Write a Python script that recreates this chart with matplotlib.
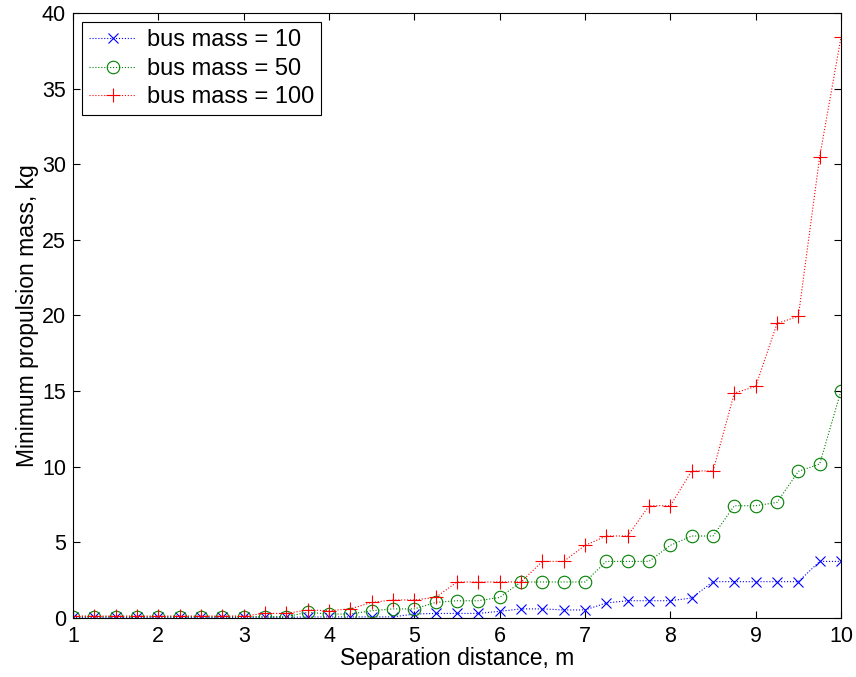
import numpy as np
import matplotlib
matplotlib.use("Agg")
import matplotlib.pyplot as plt

plt.rcParams['font.family'] = ['Liberation Sans', 'DejaVu Sans']

# separation distance, m
sep = np.arange(1, 10.01, 0.25)

# minimum propulsion mass, kg
mass_10 = [0.04, 0.04, 0.04, 0.04, 0.04, 0.04, 0.04, 0.04, 0.04, 0.04,
           0.04, 0.07, 0.07, 0.07, 0.07, 0.07, 0.26, 0.3, 0.3, 0.3,
           0.44, 0.6, 0.6, 0.53, 0.53, 0.99, 1.14, 1.14, 1.14, 1.32,
           2.4, 2.4, 2.4, 2.4, 2.4, 3.74, 3.74]
mass_50 = [0.09, 0.09, 0.09, 0.09, 0.09, 0.09, 0.09, 0.09, 0.09, 0.09,
           0.09, 0.37, 0.26, 0.26, 0.48, 0.6, 0.6, 1.03, 1.14, 1.14,
           1.36, 2.38, 2.38, 2.38, 2.38, 3.74, 3.74, 3.74, 4.8, 5.42,
           5.42, 7.42, 7.42, 7.64, 9.69, 10.18, 15.02]
mass_100 = [0.13, 0.13, 0.13, 0.13, 0.13, 0.13, 0.13, 0.13, 0.13, 0.3,
            0.3, 0.53, 0.48, 0.6, 1.03, 1.19, 1.19, 1.36, 2.38, 2.38,
            2.38, 2.38, 3.74, 3.74, 4.8, 5.42, 5.42, 7.42, 7.42, 9.72,
            9.72, 14.87, 15.31, 19.47, 19.95, 30.5, 38.4]

labels = ['bus mass = 10', 'bus mass = 50', 'bus mass = 100']

fig = plt.figure(figsize=(8.56, 6.77), dpi=100)
ax = fig.add_axes([0.0853, 0.0872, 0.8972, 0.8936])

ax.plot(sep, mass_10, ':', color=(0, 0, 1), marker='x', ms=6.5, mew=0.8, lw=0.8, label=labels[0])
ax.plot(sep, mass_50, ':', color=(0, 0.5, 0), marker='o', ms=9, mew=0.8, mfc='none', lw=0.8, label=labels[1])
ax.plot(sep, mass_100, ':', color=(1, 0, 0), marker='+', ms=10, mew=0.8, lw=0.8, label=labels[2])

ax.set_xlim(1, 10)
ax.set_ylim(0, 40)
ax.set_xticks(range(1, 11))
ax.set_yticks(range(0, 41, 5))
ax.tick_params(direction='in', length=5, width=0.8, top=True, right=True,
               labelsize=15.5)
ax.tick_params(axis='x', pad=6)
ax.tick_params(axis='y', pad=5)
for s in ax.spines.values():
    s.set_linewidth(0.8)

ax.set_xlabel('Separation distance, m', fontsize=16.5, labelpad=0)
ax.set_ylabel('Minimum propulsion mass, kg', fontsize=16.5, labelpad=2)

leg = ax.legend(loc='upper left', bbox_to_anchor=(0.0117, 0.985), borderaxespad=0,
                fontsize=17, fancybox=False, framealpha=1, edgecolor='black',
                handlelength=2.0, labelspacing=0.28, borderpad=0.3, handletextpad=0.45)
leg.get_frame().set_linewidth(0.8)

fig.savefig('out.png', dpi=100)
